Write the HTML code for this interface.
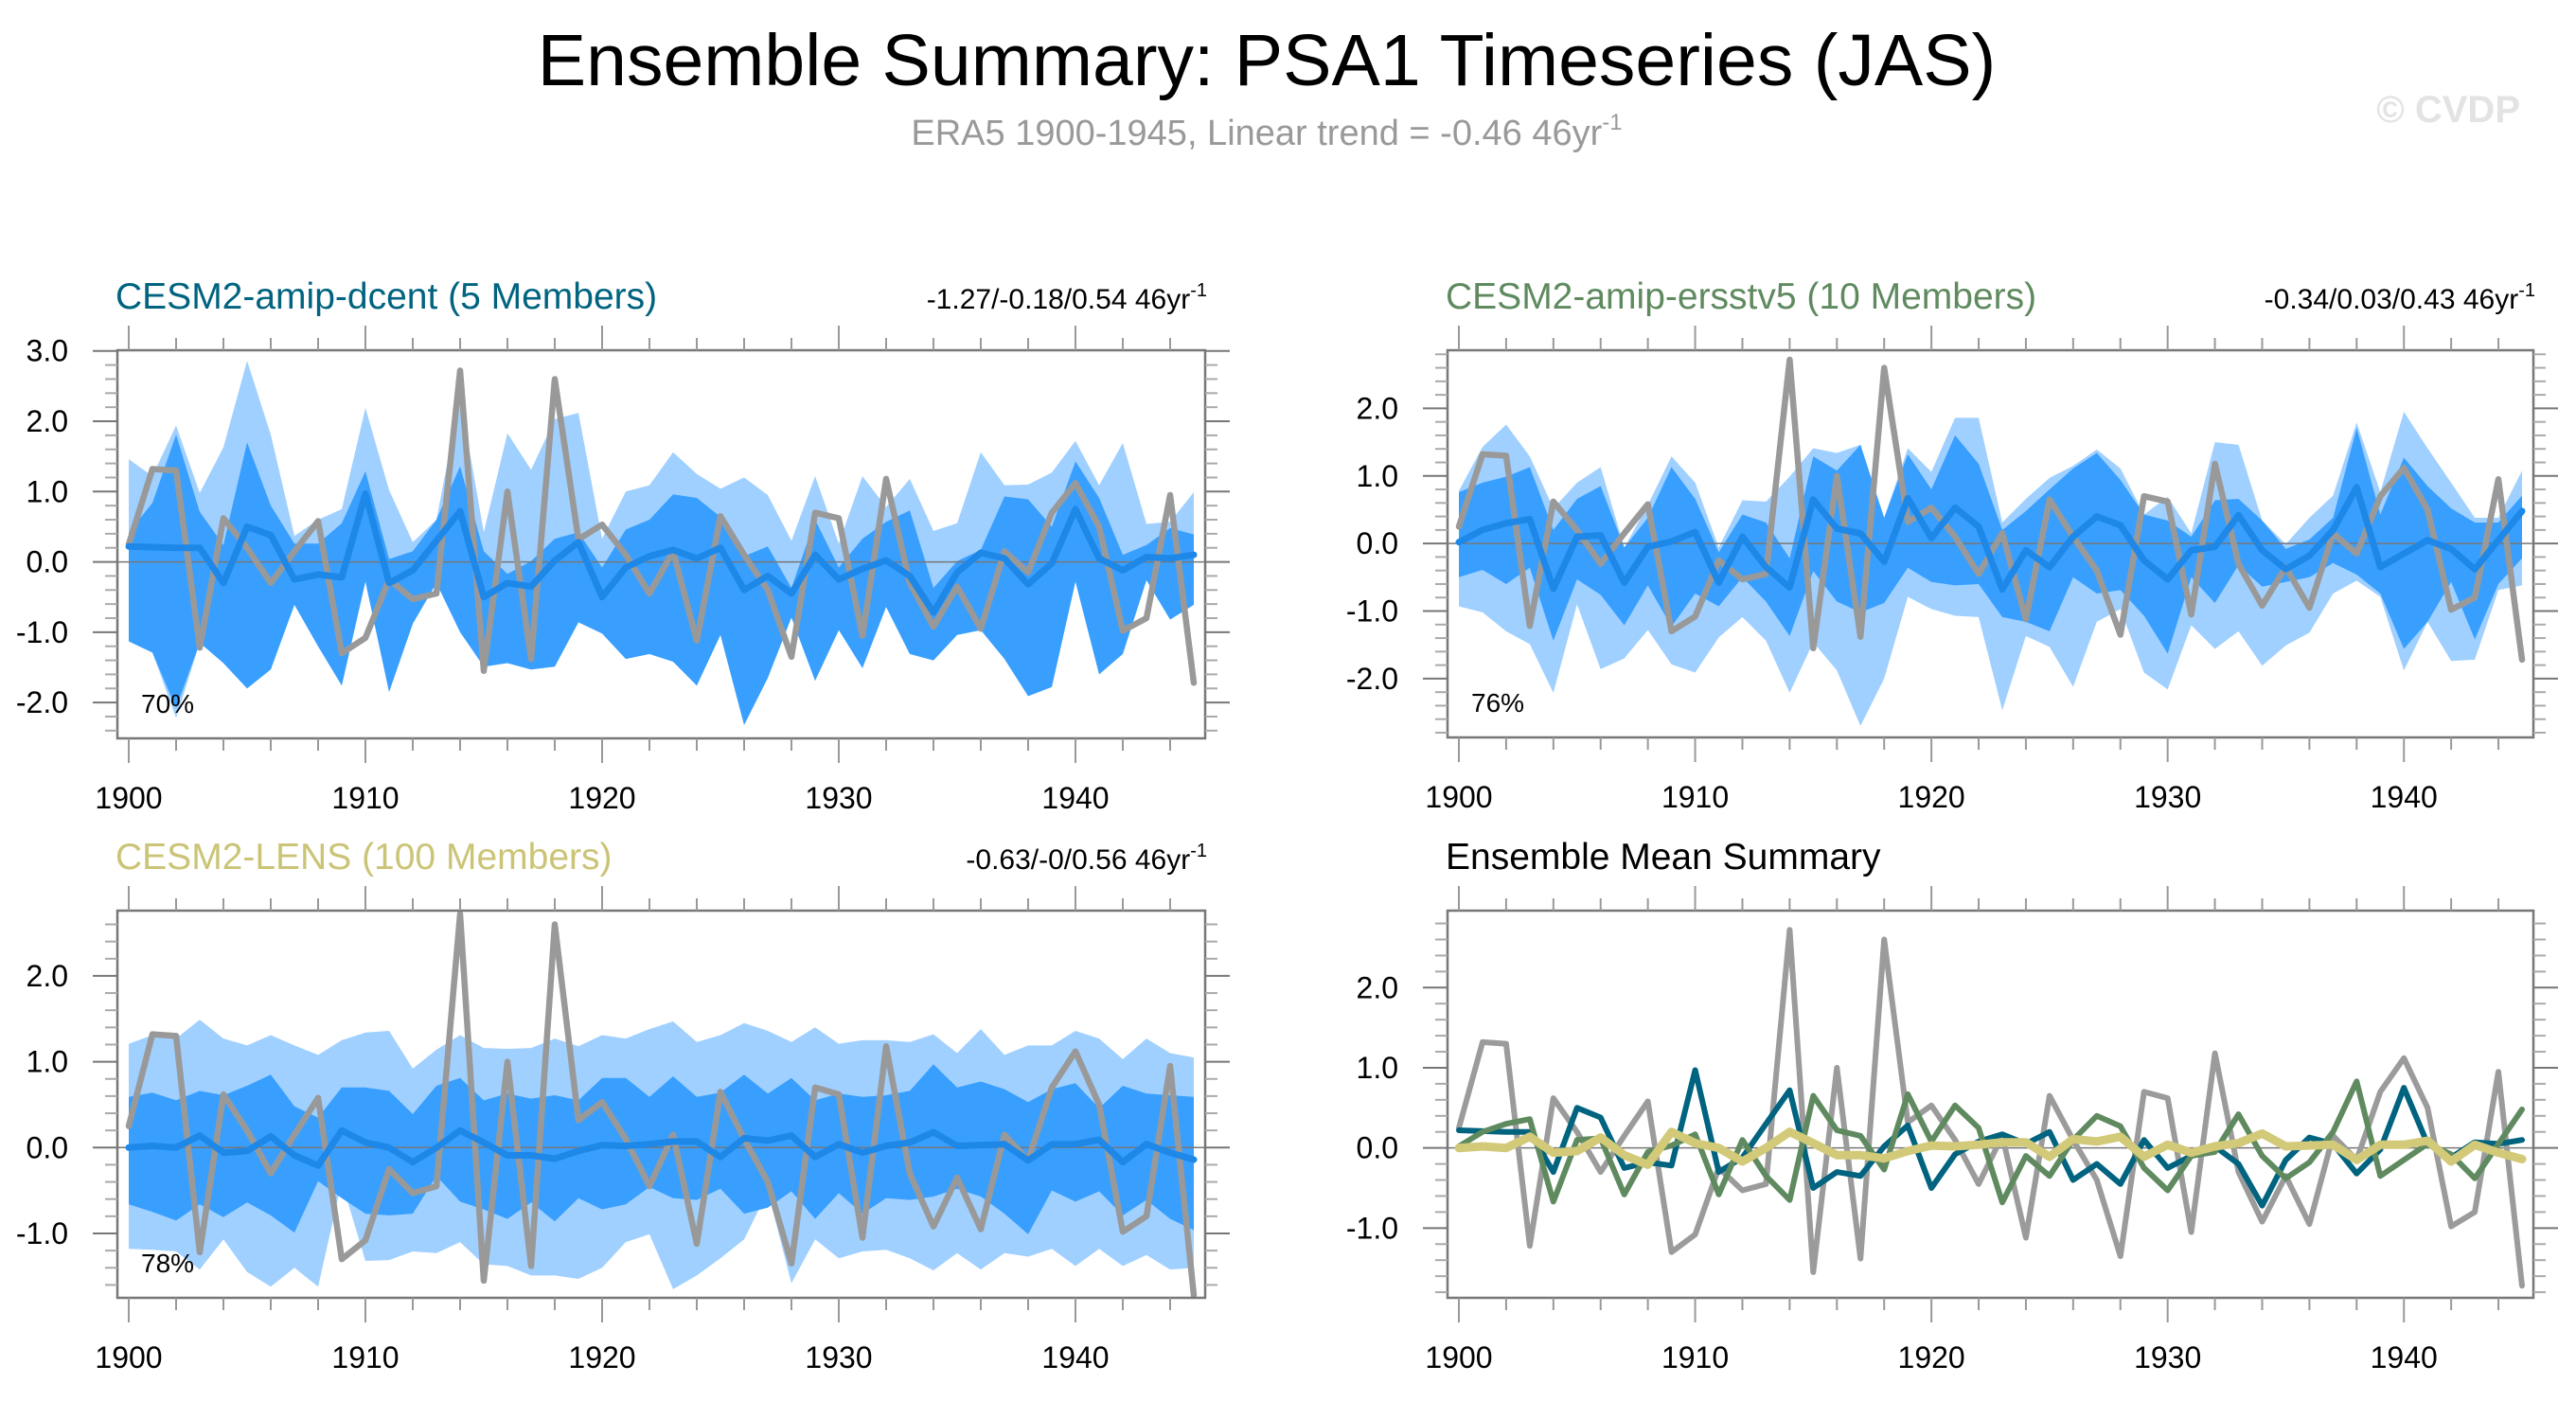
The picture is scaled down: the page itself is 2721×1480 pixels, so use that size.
<!DOCTYPE html>
<html><head><meta charset="utf-8">
<style>
html,body{margin:0;padding:0;background:#fff;}
svg{display:block;font-family:"Liberation Sans",Arial,sans-serif;}
</style></head>
<body>
<svg id="chart" xmlns="http://www.w3.org/2000/svg" width="2721" height="1480" viewBox="0 0 2721 1480">
<text x="1338" y="90" font-size="77" text-anchor="middle" fill="#000">Ensemble Summary: PSA1 Timeseries (JAS)</text>
<text x="1338" y="153" font-size="38" text-anchor="middle" fill="#999">ERA5 1900-1945, Linear trend = -0.46 46yr<tspan dy="-16" font-size="24">-1</tspan></text>
<text x="2662" y="129" font-size="40" font-weight="bold" text-anchor="end" fill="#e3e3e3">© CVDP</text>
<g id="panels"></g>
</svg>
<script>
const years = [];
for (let y = 1900; y <= 1945; y++) years.push(y);

const era5 = [0.25,1.32,1.30,-1.22,0.62,0.2,-0.3,0.15,0.58,-1.3,-1.08,-0.25,-0.53,-0.45,2.72,-1.55,1.0,-1.38,2.6,0.32,0.53,0.1,-0.45,0.15,-1.12,0.65,0.1,-0.4,-1.35,0.7,0.62,-1.05,1.18,-0.3,-0.92,-0.35,-0.95,0.15,-0.15,0.7,1.12,0.5,-0.98,-0.8,0.95,-1.72];

const dcentMean = [0.22,0.21,0.2,0.2,-0.3,0.5,0.38,-0.25,-0.18,-0.22,0.97,-0.3,-0.12,0.3,0.72,-0.5,-0.3,-0.35,0.02,0.28,-0.5,-0.08,0.08,0.17,0.05,0.2,-0.4,-0.2,-0.45,0.1,-0.25,-0.1,0.02,-0.2,-0.72,-0.15,0.13,0.05,-0.32,-0.02,0.75,0.05,-0.12,0.07,0.05,0.1];
const dcentLightHi = [1.46,1.22,1.94,0.98,1.63,2.86,1.81,0.37,0.6,0.75,2.19,1.02,0.28,0.6,2.35,0.42,1.83,1.31,2.03,2.12,0.33,1.0,1.09,1.56,1.25,1.04,1.2,0.95,0.3,1.22,0.26,1.22,0.78,1.18,0.44,0.55,1.56,1.09,1.1,1.27,1.72,1.09,1.69,0.54,0.57,0.99];
const dcentDarkHi = [0.42,0.84,1.81,0.71,0.24,1.7,0.8,0.26,0.26,0.55,1.29,0.04,0.15,0.6,1.36,0.15,-0.17,0.01,0.33,0.42,-0.08,0.46,0.6,0.96,0.91,0.64,0.08,0.22,-0.37,0.6,-0.08,0.33,0.57,0.73,-0.37,0.01,0.17,0.93,0.89,0.5,1.43,0.91,0.1,0.24,0.48,0.39];
const dcentDarkLo = [-1.13,-1.29,-2.08,-1.15,-1.44,-1.8,-1.53,-0.61,-1.2,-1.76,-0.28,-1.85,-0.88,-0.3,-1.0,-1.49,-1.44,-1.53,-1.49,-0.86,-1.02,-1.38,-1.31,-1.42,-1.76,-1.04,-2.32,-1.65,-0.79,-1.69,-0.97,-1.51,-0.64,-1.31,-1.4,-1.04,-0.97,-1.38,-1.91,-1.78,-0.28,-1.6,-1.31,-0.26,-0.82,-0.61];
const dcentLightLo = [-1.13,-1.29,-2.22,-1.15,-1.44,-1.8,-1.53,-0.61,-1.2,-1.76,-0.28,-1.85,-0.88,-0.3,-1.0,-1.49,-1.44,-1.53,-1.49,-0.86,-1.02,-1.38,-1.31,-1.42,-1.76,-1.04,-2.32,-1.65,-0.79,-1.69,-0.97,-1.51,-0.64,-1.31,-1.4,-1.04,-0.97,-1.38,-1.91,-1.78,-0.28,-1.6,-1.31,-0.26,-0.82,-0.61];

const ersMean = [0.02,0.2,0.3,0.36,-0.67,0.1,0.12,-0.58,-0.05,0.03,0.17,-0.58,0.1,-0.35,-0.65,0.65,0.22,0.15,-0.27,0.67,0.08,0.53,0.25,-0.68,-0.1,-0.35,0.1,0.4,0.27,-0.25,-0.53,-0.1,-0.05,0.42,-0.1,-0.38,-0.18,0.2,0.83,-0.35,-0.15,0.05,-0.08,-0.38,0.05,0.48];
const ersLightHi = [0.78,1.43,1.76,1.29,0.52,0.9,1.13,-0.06,0.57,1.29,0.9,-0.06,0.64,0.62,0.99,1.41,1.34,1.46,0.38,1.41,1.06,1.86,1.86,0.31,0.66,0.97,1.15,1.39,1.11,0.43,0.69,0.15,1.5,1.46,0.34,-0.01,0.38,0.71,1.79,0.76,1.95,1.41,0.9,0.38,0.38,1.08];
const ersDarkHi = [0.76,0.9,0.99,1.13,0.2,0.66,0.85,-0.06,0.38,1.13,0.66,-0.13,0.43,0.31,-0.22,1.29,1.08,1.46,0.38,1.32,0.8,1.6,1.18,0.2,0.48,0.8,1.11,1.34,0.94,0.43,0.34,0.1,0.64,0.66,0.34,-0.08,0.06,0.38,1.71,0.43,1.27,0.85,0.52,0.31,0.31,0.71];
const ersDarkLo = [-0.5,-0.39,-0.6,-0.36,-1.44,-0.53,-0.76,-1.21,-0.62,-1.23,-0.74,-0.93,-0.5,-0.86,-1.37,-0.41,-0.86,-1.02,-0.88,-0.36,-0.57,-0.62,-0.6,-1.09,-1.16,-1.3,-0.5,-0.74,-0.69,-1.07,-1.63,-0.5,-0.88,-0.32,-0.64,-0.57,-0.5,-0.29,-0.46,-0.74,-1.56,-1.16,-0.57,-1.42,-0.6,-0.22];
const ersLightLo = [-0.93,-1.02,-1.3,-1.49,-2.21,-0.9,-1.86,-1.7,-1.28,-1.79,-1.91,-1.39,-1.09,-1.44,-2.21,-1.46,-1.88,-2.7,-2.0,-0.79,-0.97,-1.07,-1.09,-2.47,-1.37,-1.53,-2.12,-1.16,-0.97,-1.91,-2.16,-1.21,-1.56,-1.3,-1.81,-1.51,-1.32,-0.74,-0.55,-0.79,-1.88,-1.16,-1.74,-1.72,-0.69,-0.62];

const lensMean = [0,0.02,0,0.14,-0.06,-0.04,0.13,-0.09,-0.21,0.2,0.06,0,-0.17,0,0.2,0.06,-0.09,-0.09,-0.13,-0.04,0.03,0.02,0.04,0.07,0.07,-0.11,0.11,0.08,0.14,-0.11,0.04,-0.06,0.02,0.06,0.18,0.02,0.03,0.04,-0.15,0.04,0.04,0.09,-0.17,0.04,-0.06,-0.14];
const lensLightHi = [1.21,1.31,1.27,1.49,1.27,1.19,1.31,1.19,1.08,1.25,1.34,1.36,0.92,1.14,1.31,1.16,1.15,1.16,1.27,1.18,1.31,1.27,1.38,1.47,1.23,1.31,1.45,1.36,1.23,1.4,1.21,1.25,1.25,1.23,1.32,1.1,1.38,1.08,1.19,1.19,1.36,1.27,1.03,1.27,1.1,1.05];
const lensDarkHi = [0.59,0.64,0.55,0.66,0.61,0.72,0.85,0.48,0.35,0.7,0.7,0.66,0.39,0.72,0.81,0.55,0.63,0.57,0.61,0.55,0.81,0.81,0.59,0.83,0.59,0.64,0.85,0.63,0.81,0.55,0.63,0.59,0.61,0.66,0.97,0.7,0.77,0.68,0.53,0.68,0.75,0.46,0.72,0.63,0.61,0.59];
const lensDarkLo = [-0.66,-0.75,-0.85,-0.66,-0.81,-0.64,-0.79,-0.99,-0.39,-0.59,-0.77,-0.79,-0.77,-0.33,-0.63,-0.72,-0.83,-0.64,-0.86,-0.59,-0.72,-0.66,-0.46,-0.59,-0.61,-0.48,-0.77,-0.7,-0.51,-0.83,-0.53,-0.77,-0.59,-0.61,-0.57,-0.48,-0.57,-0.77,-1.01,-0.5,-0.63,-0.51,-0.79,-0.61,-0.83,-0.96];
const lensLightLo = [-1.18,-1.19,-1.21,-1.42,-1.07,-1.45,-1.62,-1.4,-1.62,-0.4,-1.32,-1.31,-1.21,-1.23,-1.1,-1.36,-1.38,-1.49,-1.49,-1.53,-1.4,-1.1,-1.01,-1.65,-1.49,-1.29,-1.07,-0.51,-1.58,-1.07,-1.29,-1.21,-1.19,-1.29,-1.43,-1.23,-1.42,-1.23,-1.27,-1.18,-1.38,-1.18,-1.38,-1.25,-1.42,-1.4];

const yTickLabels = ["-2.0","-1.0","0.0","1.0","2.0","3.0"];
const xTickLabels = ["1900","1910","1920","1930","1940"];

const NS = "http://www.w3.org/2000/svg";
const root = document.getElementById("panels");
function mk(tag, parent, attrs) {
  const e = document.createElementNS(NS, tag);
  for (const k in attrs) e.setAttribute(k, attrs[k]);
  parent.appendChild(e);
  return e;
}

const panels = [
  {id:"dcent", x0:124, x1:1273, y0:370, y1:780, ymin:-2.51, ymax:3.01, title:"CESM2-amip-dcent (5 Members)", tcol:"#00637f", trend:"-1.27/-0.18/0.54 46yr", pct:"70%",
   bands:[dcentLightHi,dcentLightLo,dcentDarkHi,dcentDarkLo], mean:dcentMean},
  {id:"ersstv5", x0:1529, x1:2676, y0:370, y1:779, ymin:-2.87, ymax:2.86, title:"CESM2-amip-ersstv5 (10 Members)", tcol:"#5f8a5f", trend:"-0.34/0.03/0.43 46yr", pct:"76%",
   bands:[ersLightHi,ersLightLo,ersDarkHi,ersDarkLo], mean:ersMean},
  {id:"lens", x0:124, x1:1273, y0:962, y1:1371, ymin:-1.75, ymax:2.76, title:"CESM2-LENS (100 Members)", tcol:"#cbc476", trend:"-0.63/-0/0.56 46yr", pct:"78%",
   bands:[lensLightHi,lensLightLo,lensDarkHi,lensDarkLo], mean:lensMean},
  {id:"summary", x0:1529, x1:2676, y0:962, y1:1371, ymin:-1.87, ymax:2.96, title:"Ensemble Mean Summary", tcol:"#000", trend:null, pct:null, bands:null, mean:null}
];

panels.forEach(function(p) {
  const g = mk("g", root, {});
  
  
  const xs = function(yr){ return p.x0 + 12 + (yr - 1900) * (p.x1 - p.x0 - 24) / 45; };
  const ys = function(v){ return p.y1 - (v - p.ymin) * (p.y1 - p.y0) / (p.ymax - p.ymin); };

  const clipId = "clip-" + p.id;
  const cp = mk("clipPath", g, {id: clipId});
  mk("rect", cp, {x:p.x0, y:p.y0, width:p.x1-p.x0, height:p.y1-p.y0});
  const plot = mk("g", g, {"clip-path":"url(#"+clipId+")"});
  
  

  function band(hi, lo, color, name) {
    let d = "";
    years.forEach(function(yr,i){ d += (i ? "L" : "M") + xs(yr).toFixed(1) + "," + ys(hi[i]).toFixed(1); });
    for (let i = years.length-1; i >= 0; i--) d += "L" + xs(years[i]).toFixed(1) + "," + ys(lo[i]).toFixed(1);
    const e = mk("path", plot, {d: d + "Z", fill: color, stroke: "none"});
    
    
  }
  function line(vals, color, w, name) {
    let d = "";
    years.forEach(function(yr,i){ d += (i ? "L" : "M") + xs(yr).toFixed(1) + "," + ys(vals[i]).toFixed(1); });
    const e = mk("path", plot, {d: d, fill: "none", stroke: color, "stroke-width": w, "stroke-linejoin": "round", "stroke-linecap": "round"});
    
    
  }

  if (p.bands) {
    band(p.bands[0], p.bands[1], "#a0d0ff", "outer-spread-band");
    band(p.bands[2], p.bands[3], "#389fff", "inner-spread-band");
  }
  const zl = mk("line", plot, {x1:p.x0, x2:p.x1, y1:ys(0), y2:ys(0), stroke:"#777", "stroke-width":1.5});
  
  

  if (p.bands) {
    line(era5, "#999", 6.5, "era5-line");
    line(p.mean, "#1e88e8", 7, "ensemble-mean-line");
  } else {
    line(era5, "#9b9b9b", 6, "era5-line");
    line(dcentMean, "#00637f", 6, "dcent-mean-line");
    line(ersMean, "#5f8a5f", 6, "ersstv5-mean-line");
    line(lensMean, "#d2c979", 9, "lens-mean-line");
  }

  const frame = mk("rect", g, {x:p.x0, y:p.y0, width:p.x1-p.x0, height:p.y1-p.y0, fill:"none", stroke:"#777", "stroke-width":2.5});
  
  

  for (let yr = 1900; yr <= 1945; yr += 2) {
    const major = (yr % 10 === 0);
    const len = major ? 26 : 13;
    const x = xs(yr);
    const tb = mk("line", g, {x1:x, x2:x, y1:p.y1, y2:p.y1+len, stroke:"#999", "stroke-width":2});
    
    
    const tt = mk("line", g, {x1:x, x2:x, y1:p.y0, y2:p.y0-len, stroke:"#999", "stroke-width":2});
    
    
  }
  xTickLabels.forEach(function(lbl){
    const t = mk("text", g, {x: xs(+lbl), y: p.y1 + 74, "font-size": 32, "text-anchor": "middle", fill: "#000"});
    t.textContent = lbl;
    
    
  });
  for (let k = Math.ceil(p.ymin * 5); k <= Math.floor(p.ymax * 5); k++) {
    const v = k / 5;
    const major = (k % 5 === 0);
    const len = major ? 26 : 13;
    const y = ys(v);
    const tl = mk("line", g, {x1:p.x0-len, x2:p.x0, y1:y, y2:y, stroke: major ? "#777" : "#aaa", "stroke-width":2});
    
    
    const tr = mk("line", g, {x1:p.x1, x2:p.x1+len, y1:y, y2:y, stroke: major ? "#777" : "#aaa", "stroke-width":2});
    
    
  }
  yTickLabels.forEach(function(lbl){
    const v = parseFloat(lbl);
    if (v < p.ymin || v > p.ymax + 0.02) return;
    const t = mk("text", g, {x: p.x0 - 52, y: ys(v) + 11, "font-size": 32, "text-anchor": "end", fill: "#000"});
    t.textContent = lbl;
    
    
  });

  const ti = mk("text", g, {x: p.x0 - 2, y: p.y0 - 44, "font-size": 39, fill: p.tcol});
  ti.textContent = p.title;
  
  

  if (p.trend) {
    const tr = mk("text", g, {x: p.x1 + 2, y: p.y0 - 44, "font-size": 30, "text-anchor": "end", fill: "#000"});
    tr.textContent = p.trend;
    const sup = mk("tspan", tr, {dy: -13, "font-size": 20});
    sup.textContent = "-1";
    
    
  }
  if (p.pct) {
    const pc = mk("text", g, {x: p.x0 + 25, y: p.y1 - 27, "font-size": 28, fill: "#000"});
    pc.textContent = p.pct;
    
    
  }
});
</script>
</body></html>
